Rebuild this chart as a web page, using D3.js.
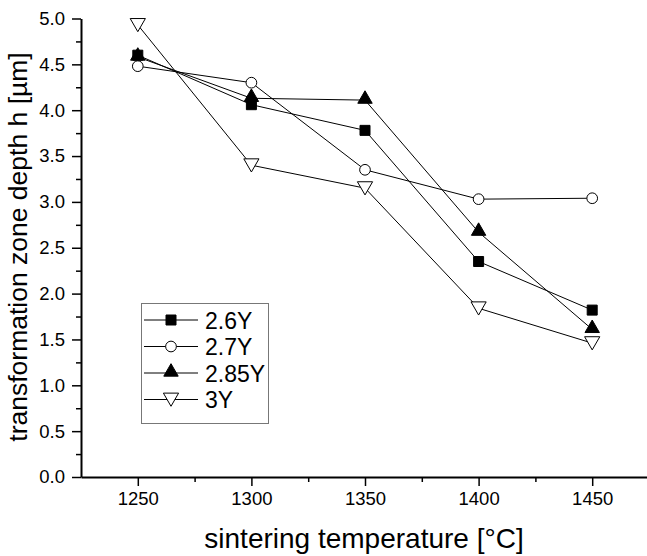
<!DOCTYPE html>
<html>
<head>
<meta charset="utf-8">
<script src="https://cdn.jsdelivr.net/npm/d3@7"></script>
<style>
body { margin: 0; background: #fff; }
svg { font-family: Arial, "Liberation Sans", sans-serif; }
</style>
</head>
<body>
<svg id="chart" width="647" height="556"></svg>
<script>
const temps = [1250, 1300, 1350, 1400, 1450];
const s26 = [4.60, 4.06, 3.78, 2.35, 1.82];
const s27 = [4.48, 4.30, 3.35, 3.03, 3.04];
const s285 = [4.58, 4.13, 4.11, 2.67, 1.61];
const s3 = [4.93, 3.40, 3.15, 1.84, 1.46];
const seriesNames = ["2.6Y", "2.7Y", "2.85Y", "3Y"];
const xTicks = [1250, 1300, 1350, 1400, 1450];
const yTicks = [0, 0.5, 1, 1.5, 2, 2.5, 3, 3.5, 4, 4.5, 5];

const series = [
    { name: seriesNames[0], values: s26, symbol: d3.symbolSquare, size: 100, fill: "#000" },
    { name: seriesNames[1], values: s27, symbol: d3.symbolCircle, size: 90, fill: "#fff" },
    { name: seriesNames[2], values: s285, symbol: d3.symbolTriangle, size: 90, fill: "#000", rot: 0 },
    { name: seriesNames[3], values: s3, symbol: d3.symbolTriangle, size: 100, fill: "#fff", rot: 180 }
]

const svg = d3.select("#chart")

let xScale = d3.scaleLinear().domain([1225, 1475]).range([81, 649])
let yScale = d3.scaleLinear().domain([0, 5]).range([477, 18.5])

// minor ticks
svg.append("g")
    .attr("transform", `translate(0,${yScale(0)})`)
    .call(d3.axisBottom(xScale).tickValues(d3.range(1275, 1475, 50)).tickSize(5).tickFormat(""))
    .call(g => g.select(".domain").remove())
    .selectAll("line").attr("stroke-width", 1.5)

svg.append("g")
    .attr("transform", `translate(${xScale(1225)},0)`)
    .call(d3.axisLeft(yScale).tickValues(d3.range(0.25, 5, 0.5)).tickSize(5).tickFormat(""))
    .call(g => g.select(".domain").remove())
    .selectAll("line").attr("stroke-width", 1.5)

let xAxis = svg.append("g")
    .attr("transform", `translate(0,${yScale(0)})`)
    .call(d3.axisBottom(xScale).tickValues(xTicks).tickSize(9).tickSizeOuter(0).tickPadding(6).tickFormat(d3.format("d")))
xAxis.select(".domain").attr("stroke-width", 2)
xAxis.selectAll("line").attr("stroke-width", 1.5)
xAxis.selectAll("text").attr("font-size", 18.5).attr("fill", "#000")

let yAxis = svg.append("g")
    .attr("transform", `translate(${xScale(1225)},0)`)
    .call(d3.axisLeft(yScale).tickValues(yTicks).tickSize(9).tickSizeOuter(0).tickPadding(7).tickFormat(d3.format(".1f")))
yAxis.select(".domain").attr("stroke-width", 2)
yAxis.selectAll("line").attr("stroke-width", 1.5)
yAxis.selectAll("text").attr("font-size", 18.5).attr("fill", "#000")

svg.append("text")
    .attr("x", 364).attr("y", 548)
    .attr("text-anchor", "middle")
    .attr("font-size", 28)
    .text("sintering temperature [°C]")

svg.append("text")
    .attr("transform", `translate(27,247) rotate(-90)`)
    .attr("text-anchor", "middle")
    .attr("font-size", 26.5)
    .text("transformation zone depth h [µm]")

let line = d3.line()
    .x((d, i) => xScale(temps[i]))
    .y(d => yScale(d))

series.forEach(s => {
    svg.append("path")
        .attr("d", line(s.values))
        .attr("fill", "none")
        .attr("stroke", "#000")
        .attr("stroke-width", 1)
})

function drawSymbol(g, s, x, y) {
    g.append("path")
        .attr("d", d3.symbol().type(s.symbol).size(s.size)())
        .attr("transform", `translate(${x},${y}) rotate(${s.rot || 0})` + (s.rot === 180 ? " translate(0,2)" : s.rot === 0 ? " translate(0,-1)" : ""))
        .attr("fill", s.fill)
        .attr("stroke", "#000")
        .attr("stroke-width", 1)
}

series.forEach(s => {
    s.values.forEach((v, i) => drawSymbol(svg, s, xScale(temps[i]), yScale(v)))
})

// legend
let legend = svg.append("g")
legend.append("rect")
    .attr("x", 141.5).attr("y", 303.5)
    .attr("width", 127).attr("height", 120)
    .attr("fill", "#fff")
    .attr("stroke", "#777")
    .attr("stroke-width", 1)

series.forEach((s, i) => {
    let y = 320 + i * 26.5
    legend.append("line")
        .attr("x1", 144).attr("x2", 198)
        .attr("y1", y).attr("y2", y)
        .attr("stroke", "#000")
    drawSymbol(legend, s, 171, y)
    legend.append("text")
        .attr("x", 205).attr("y", y + 8.5)
        .attr("font-size", 23)
        .text(s.name)
})
</script>
</body>
</html>
